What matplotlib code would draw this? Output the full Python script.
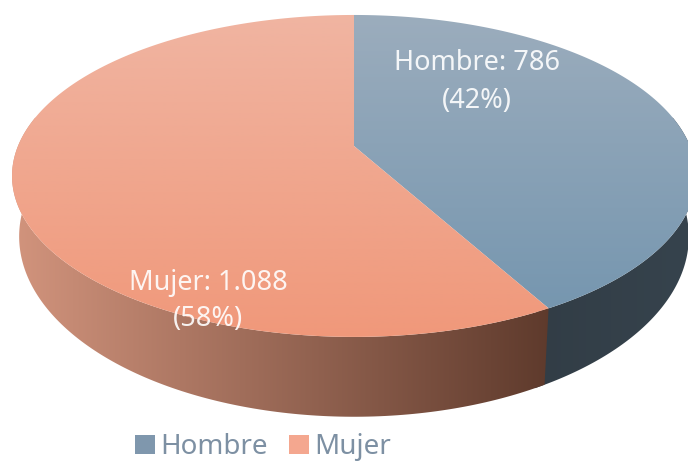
from __future__ import annotations

import numpy as np
import matplotlib

matplotlib.use("Agg")
import matplotlib.pyplot as plt
from matplotlib.colors import LinearSegmentedColormap
from matplotlib.patches import Patch, Polygon

categories = ["Hombre", "Mujer"]
values = [786, 1088]
value_labels = ["786", "1.088"]

top_colors = [("#9CADBD", "#7294AE"), ("#F0B5A2", "#F0987A")]
wall_colors = [("#323D46", "#36434D"), ("#D2947D", "#5E3A2C")]
legend_colors = ["#7F97AD", "#F4A78F"]
text_color = "#7D90A3"

W, H = 688, 465
APEX_X = 354
PERSP = 0.186
TOP_RING = (146, 336, 155.4)
BOTTOM_RING = (203, 329, 174)


def ring(theta, apex_y, rx, ry):
    # theta in degrees, clockwise from 12 o'clock, with a bit of perspective
    rad = np.radians(theta)
    u, v = np.sin(rad), -np.cos(rad)
    w = 1 - PERSP * v
    return APEX_X + rx * u / w, apex_y + ry * v / w


def gradient_fill(axis, points, colors, vertical, extent):
    cmap = LinearSegmentedColormap.from_list("fill", colors)
    ramp = np.linspace(0, 1, 256)
    ramp = ramp[:, None] if vertical else ramp[None, :]
    image = axis.imshow(
        ramp, cmap=cmap, extent=extent, origin="upper", aspect="auto",
        interpolation="bilinear", vmin=0, vmax=1,
    )
    patch = Polygon(points, closed=True, transform=axis.transData, fc="none", ec="none")
    axis.add_patch(patch)
    image.set_clip_path(patch)


figure = plt.figure(figsize=(W / 100, H / 100), dpi=100)
axis = figure.add_axes([0, 0, 1, 1])

shares = np.array(values) / sum(values)
edges = np.concatenate([[0], np.cumsum(shares) * 360])

# side walls first, the top surface covers whatever overlaps
wall_ranges = [(79, edges[1] + 2), (edges[1], 281)]
wall_extents = [(535, W), (12, 552)]
for i in range(2):
    thetas = np.linspace(wall_ranges[i][0], wall_ranges[i][1], 160)
    upper = np.column_stack(ring(thetas, *TOP_RING))
    lower = np.column_stack(ring(thetas, *BOTTOM_RING))
    outline = np.vstack([upper, lower[::-1]])
    x0, x1 = wall_extents[i]
    gradient_fill(axis, outline, wall_colors[i], False, (x0, x1, 430, 0))

for i in range(2):
    thetas = np.linspace(edges[i], edges[i + 1], 240)
    rim = np.column_stack(ring(thetas, *TOP_RING))
    outline = np.vstack([[APEX_X, TOP_RING[0]], rim])
    gradient_fill(axis, outline, top_colors[i], True, (0, W, 340, 12))

font = ["Noto Sans", "DejaVu Sans"]
label_spots = [(477, 82), (208, 301)]
label_spacing = [1.5, 1.38]
for i, name in enumerate(categories):
    label = f"{name}: {value_labels[i]}\n({shares[i]:.0%})"
    axis.text(
        label_spots[i][0], label_spots[i][1], label, color="white", alpha=0.9,
        fontsize=19.5, family=font, ha="center", va="center",
        linespacing=label_spacing[i],
    )

handles = [Patch(fc=c, ec="none") for c in legend_colors]
legend = axis.legend(
    handles, categories, loc="lower left", bbox_to_anchor=(110 / W, -21 / H),
    ncol=2, frameon=False, handlelength=0.72, handleheight=0.65,
    handletextpad=0.18, columnspacing=0.78, labelcolor=text_color,
    prop={"family": font, "size": 20},
)

axis.set_xlim(0, W)
axis.set_ylim(H, 0)
axis.axis("off")
figure.savefig("out.png", dpi=100)
